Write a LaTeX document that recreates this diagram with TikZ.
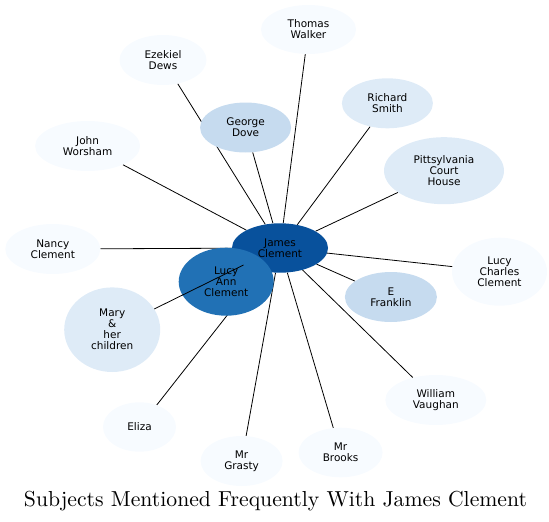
\documentclass[tikz,border=0pt]{standalone}
\usepackage{fontspec}
\newfontfamily\labelfont{DejaVu Sans}
\newfontfamily\titlefont{lmroman10-regular.otf}
\usetikzlibrary{shapes.geometric,backgrounds}
\definecolor{blueA}{HTML}{F7FBFF}
\definecolor{blueB}{HTML}{DEEBF7}
\definecolor{blueC}{HTML}{C6DBEF}
\definecolor{blueE}{HTML}{2171B5}
\definecolor{blueF}{HTML}{08519C}
\begin{document}
\begin{tikzpicture}[x=1pt, y=-1pt,
  subject/.style={ellipse, inner sep=0pt, align=center, font=\labelfont\fontsize{10.5}{11}\selectfont},
  link/.style={line width=0.8pt}]
\useasboundingbox (0,0) rectangle (549,522);

% Central subject
\node (james) [subject, fill=blueF, minimum width=96pt, minimum height=49.4pt] at (280.0, 248.0) {James\\Clement};
\node (lucyann) [subject, fill=blueE, minimum width=95pt, minimum height=68pt] at (226.2, 281.7) {Lucy\\Ann\\Clement};

% Upper subjects
\node (thomas) [subject, fill=blueA, minimum width=95pt, minimum height=49pt] at (308.5, 29.5) {Thomas\\Walker};
\node (ezekiel) [subject, fill=blueA, minimum width=87pt, minimum height=50pt] at (163.0, 60.0) {Ezekiel\\Dews};
\node (george) [subject, fill=blueC, minimum width=91pt, minimum height=50pt] at (245.6, 127.5) {George\\Dove};
\node (richard) [subject, fill=blueB, minimum width=91pt, minimum height=50pt] at (387.4, 103.3) {Richard\\Smith};
\node (john) [subject, fill=blueA, minimum width=105pt, minimum height=50pt] at (87.6, 146.0) {John\\Worsham};
\node (pitts) [subject, fill=blueB, minimum width=120pt, minimum height=67pt] at (444.0, 170.7) {Pittsylvania\\Court\\House};

% Side subjects
\node (nancy) [subject, fill=blueA, minimum width=95pt, minimum height=50pt] at (52.8, 249.0) {Nancy\\Clement};
\node (mary) [subject, fill=blueB, minimum width=96pt, minimum height=84.6pt] at (112.2, 329.7) {Mary\\\&\\her\\children};
\node (franklin) [subject, fill=blueC, minimum width=92pt, minimum height=50pt] at (390.9, 297.0) {E\\Franklin};
\node (lucych) [subject, fill=blueA, minimum width=95pt, minimum height=68pt] at (499.5, 271.7) {Lucy\\Charles\\Clement};

% Lower subjects
\node (william) [subject, fill=blueA, minimum width=101pt, minimum height=50pt] at (435.8, 400.0) {William\\Vaughan};
\node (eliza) [subject, fill=blueA, minimum width=73pt, minimum height=49.4pt] at (139.5, 427.0) {Eliza};
\node (grasty) [subject, fill=blueA, minimum width=82pt, minimum height=50pt] at (241.6, 461.0) {Mr\\Grasty};
\node (brooks) [subject, fill=blueA, minimum width=84pt, minimum height=49.6pt] at (340.6, 452.5) {Mr\\Brooks};

% Connections
\begin{scope}[on background layer]
\draw [link] (james) -- (thomas);
\draw [link] (james) -- (ezekiel);
\draw [link] (james) -- (george);
\draw [link] (james) -- (richard);
\draw [link] (james) -- (john);
\draw [link] (james) -- (pitts);
\draw [link] (james) -- (nancy);
\draw [link] (james) -- (lucych);
\draw [link] (james) -- (franklin);
\draw [link] (james) -- (william);
\draw [link] (james) -- (brooks);
\draw [link] (james) -- (grasty);
\draw [link] (james) -- (eliza);
\end{scope}
\coordinate (maryend) at (243.5, 265.0);
\draw [link] (mary) -- (maryend);

% Title
\node (title) [font=\titlefont\fontsize{21.7}{24}\selectfont, anchor=base] at (275.5, 506.0) {Subjects Mentioned Frequently With James Clement};

\end{tikzpicture}
\end{document}
